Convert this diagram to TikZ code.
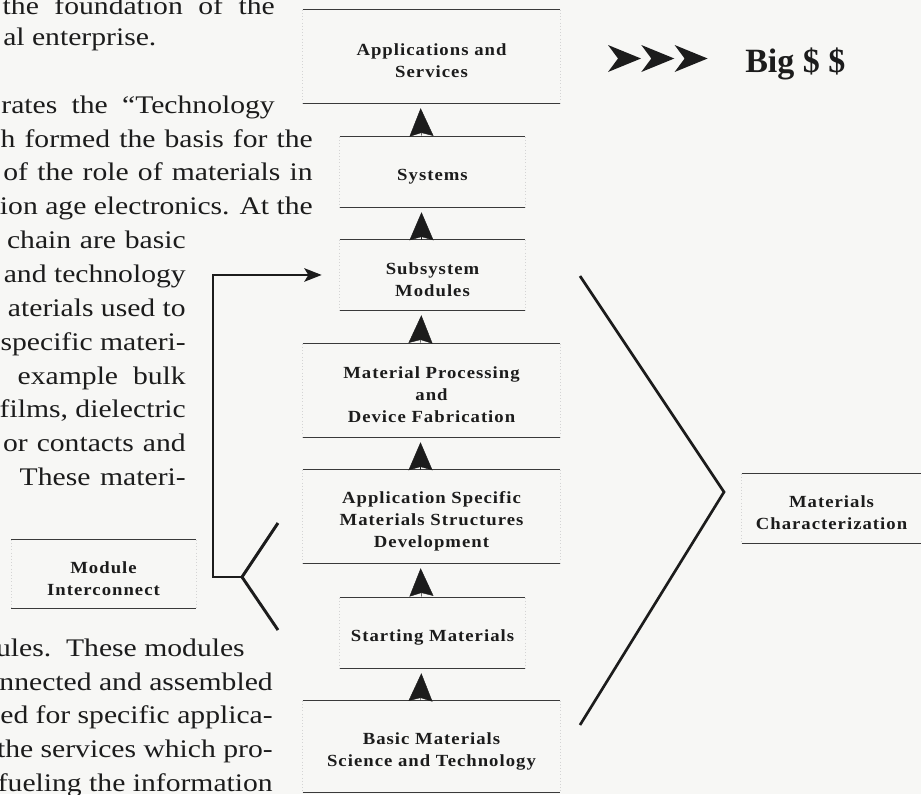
\documentclass[tikz,border=0pt]{standalone}
\usepackage{fontspec}
\setmainfont{Liberation Serif}
\newfontfamily\bodyfont[FakeStretch=1.17]{Liberation Serif}
\newfontfamily\labelfont[FakeStretch=1.1,LetterSpace=6]{Liberation Serif}
\newfontfamily\bigfont{Liberation Serif}
\usetikzlibrary{arrows.meta}
\definecolor{ink}{HTML}{1C1C1C}
\definecolor{rulec}{HTML}{3A3A3A}
\definecolor{bgc}{HTML}{F7F7F5}
\definecolor{sidec}{HTML}{D4D4D4}
\def\ys{3.4pt}
\newcommand{\jline}[2]{\makebox[#1][s]{#2}}
\tikzset{
  bodyline/.style={anchor=base east, inner sep=0pt, text=ink,
    font=\bodyfont\fontsize{19pt}{22pt}\selectfont},
  bodyleft/.style={bodyline, anchor=base west},
  stage/.style={inner sep=0pt, align=center, text=ink,
    font=\labelfont\bfseries\fontsize{12.75pt}{16.5pt}\selectfont},
  widestage/.style={stage, minimum width=192.75pt, minimum height=69.75pt},
  narrowstage/.style={stage, minimum width=138.75pt, minimum height=52.5pt},
  rule/.style={draw=rulec, line width=0.75pt},
  sideline/.style={draw=sidec, line width=0.4pt, dotted},
  chain/.style={draw=ink, line width=0.3pt,
    -{Stealth[length=21pt,width=18pt,inset=2.5pt]}, shorten >=3.75pt},
  heavy/.style={draw=ink, line width=2.2pt},
  linkarrow/.style={heavy, -{Stealth[length=13pt,width=10pt,inset=3pt]}, shorten >=13.5pt},
}
\begin{document}
\begin{tikzpicture}[x=0.75pt,y=-0.75pt]
\clip (0,0) rectangle (921,794);
\fill[bgc] (0,0) rectangle (921,794);

% ---------- body text ----------
\node[bodyline] (t1) at (275,14) {\jline{204pt}{the foundation of the}};
\node[bodyleft] (t2) at (3,45) {al enterprise.};
\node[bodyline] (t3) at (275,113) {\jline{205pt}{rates the “Technology}};
\node[bodyline] (t4) at (313,147) {\jline{234pt}{h formed the basis for the}};
\node[bodyline] (t5) at (313,180) {\jline{232pt}{of the role of materials in}};
\node[bodyline] (t6) at (313,214) {tion age electronics. At the};
\node[bodyline] (t7) at (186,248) {\jline{134pt}{chain are basic}};
\node[bodyline] (t8) at (186,282) {and technology};
\node[bodyline] (t9) at (186,316) {aterials used to};
\node[bodyline] (t10) at (186,350) {specific materi-};
\node[bodyline] (t11) at (186,384) {\jline{126pt}{example bulk}};
\node[bodyline] (t12) at (186,417) {films, dielectric};
\node[bodyline] (t13) at (186,451) {\jline{137pt}{or contacts and}};
\node[bodyline] (t14) at (186,485) {\jline{124.5pt}{These materi-}};
\node[bodyline] (t15) at (245,656) {ules.\ \ These modules};
\node[bodyline] (t16) at (273,690) {nnected and assembled};
\node[bodyline] (t17) at (273,723) {ned for specific applica-};
\node[bodyline] (t18) at (273,757) {the services which pro-};
\node[bodyline] (t19) at (273,791) {fueling the information};

% ---------- chain stages (text centres; rules sit \ys above the node box) ----------
\node[widestage] (apps) at (431.5,61) {Applications and\\Services};
\node[narrowstage] (sys) at (432.5,176.5) {Systems};
\node[narrowstage] (sub) at (432.5,279.5) {Subsystem\\Modules};
\node[widestage] (proc) at (431.5,395) {Material Processing\\and\\Device Fabrication};
\node[widestage] (asm) at (431.5,521) {Application Specific\\Materials Structures\\Development};
\node[narrowstage] (start) at (432.5,637.5) {Starting Materials};
\node[widestage, minimum height=68.25pt] (basic) at (431.5,751) {Basic Materials\\Science and Technology};
\node[stage, minimum width=138pt, minimum height=51pt] (modint) at (103.5,578.5) {Module\\Interconnect};
\node[stage, minimum width=134.25pt, minimum height=51.75pt] (matchar) at (831.5,513) {Materials\\Characterization};

\foreach \n in {apps,sys,sub,proc,asm,start,basic,modint,matchar}{
  \draw[sideline] ([yshift=\ys]\n.north west) -- ([yshift=\ys]\n.south west);
  \draw[sideline] ([yshift=\ys]\n.north east) -- ([yshift=\ys]\n.south east);
  \draw[rule] ([yshift=\ys]\n.north west) -- ([yshift=\ys]\n.north east);
  \draw[rule] ([yshift=\ys]\n.south west) -- ([yshift=\ys]\n.south east);
}

% ---------- chain arrows ----------
\foreach \lo/\hi in {sys/apps, sub/sys, proc/sub, asm/proc, start/asm, basic/start}{
  \draw[chain] ([xshift=-8.25pt,yshift=\ys]\lo.north) -- ([xshift=-8.25pt,yshift=\ys]\hi.south);
}

% ---------- module interconnect bracket ----------
\coordinate (bv) at (242,577);
\coordinate (bc) at (213,577);
\coordinate (bt) at (278,523);
\coordinate (bb) at (278,630);
\draw[heavy] (bt) -- (bv) -- (bb);
\draw[linkarrow] (bv) -- (bc) |- ([yshift=\ys]sub.west);

% ---------- characterization chevron ----------
\coordinate (cvt) at (580,276);
\coordinate (cvm) at (724,492);
\coordinate (cvb) at (580,725);
\draw[draw=ink, line width=2pt] (cvt) -- (cvm) -- (cvb);

% ---------- Big $ $ ----------
\foreach \i in {0,1,2}{
  \fill[ink] ({608+33.3*\i},45) -- ({641+33.3*\i},58.5) -- ({608+33.3*\i},72) -- ({618+33.3*\i},58.5) -- cycle;
}
\node[anchor=base west, inner sep=0pt, text=ink,
      font=\bigfont\bfseries\fontsize{25.5pt}{30pt}\selectfont] (big) at (745,72) {Big \$ \$};
\end{tikzpicture}
\end{document}
